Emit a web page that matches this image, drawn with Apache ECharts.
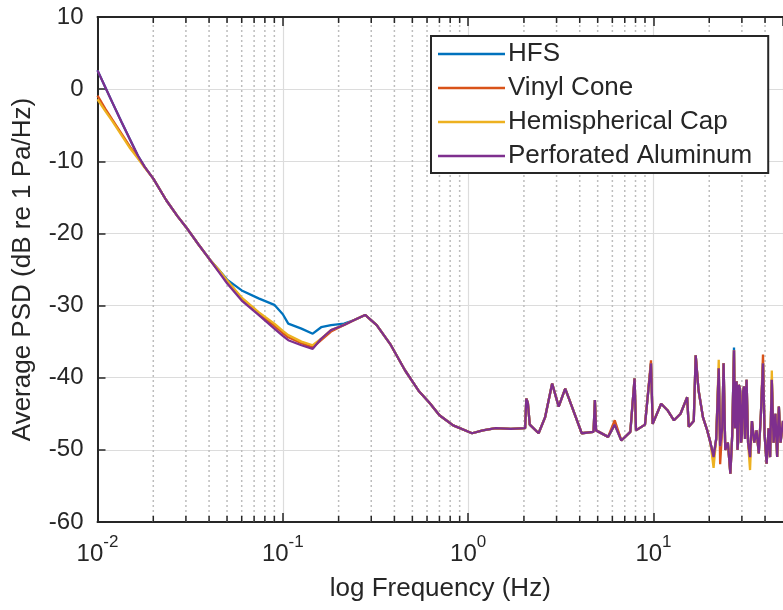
<!DOCTYPE html>
<html><head><meta charset="utf-8">
<script src="https://cdn.jsdelivr.net/npm/echarts@6/dist/echarts.min.js"></script>
<style>html,body{margin:0;padding:0;background:#fff}#c{width:783px;height:610px}</style>
</head><body><div id="c"></div>
<script>
// Frequencies (Hz)
const freq = [
0.0100,0.0110,0.0120,0.0135,0.0150,0.0165,0.0180,0.0200,0.0235,0.0270,
0.0300,0.0350,0.0400,0.0450,0.0500,0.0600,0.0740,0.0900,0.1000,0.1070,
0.1260,0.1450,0.1610,0.1820,0.2140,0.2430,0.2780,0.3210,0.3790,0.4570,
0.5400,0.6200,0.7000,0.8300,1.0500,1.2000,1.4100,1.7000,2.0300,2.0600,
2.1000,2.1500,2.4000,2.6000,2.8400,3.0800,3.3400,3.6300,4.1000,4.7500,
4.8300,4.9000,5.6900,6.1800,6.7100,7.5000,7.9100,8.0500,9.0000,9.7000,
9.9000,11.000,11.900,12.900,14.000,15.200,15.500,16.500,16.900,17.500,
18.5,19.5,20.3,21.1,21.8,22.5,22.9,23.5,23.9,24.4,
25.2,26.0,26.6,27.2,27.5,27.8,28.1,28.4,28.6,28.9,
29.3,29.7,30.0,30.4,30.8,31.2,31.8,32.4,33.2,34.0,
35.0,36.0,37.0,38.0,39.0,39.8,40.8,41.8,42.6,43.5,
44.5,45.5,46.5,47.5,48.5,50.0
];
const hfs = [
2.6,0.3,-1.8,-4.6,-7.0,-9.2,-10.8,-12.4,-15.4,-17.6,
-19.1,-21.5,-23.5,-25.0,-26.4,-27.9,-29.0,-29.9,-31.2,-32.5,
-33.2,-33.9,-33.0,-32.7,-32.5,-32.0,-31.3,-32.7,-35.3,-39.0,
-41.8,-43.5,-45.2,-46.6,-47.7,-47.3,-47.0,-47.1,-47.0,-42.9,
-43.5,-46.5,-47.7,-45.5,-40.8,-44.0,-41.5,-44.0,-47.7,-47.5,
-43.1,-47.3,-48.2,-46.5,-48.7,-47.5,-40.1,-47.3,-46.5,-38.0,
-46.4,-43.6,-44.5,-45.9,-45.0,-42.7,-46.8,-46.0,-36.9,-41.7,
-45.5,-47.3,-49.0,-51.0,-48.5,-38.7,-49.5,-47.0,-38.0,-50.0,
-49.0,-53.3,-48.0,-35.8,-47.0,-41.5,-40.5,-50.0,-49.0,-41.0,
-41.5,-49.0,-48.0,-42.0,-41.2,-48.5,-40.3,-49.0,-51.0,-46.0,
-49.0,-47.3,-50.5,-45.0,-38.0,-48.0,-51.9,-47.0,-51.0,-40.3,
-49.0,-45.0,-51.0,-44.0,-49.0,-46.0
];
const vinyl = [
-0.9,-2.7,-4.2,-6.2,-8.0,-9.4,-10.8,-12.4,-15.4,-17.6,
-19.1,-21.5,-23.5,-25.2,-26.6,-29.0,-31.0,-32.8,-33.8,-34.4,
-35.2,-35.8,-34.8,-33.6,-32.7,-32.0,-31.3,-32.7,-35.3,-39.0,
-41.8,-43.5,-45.2,-46.6,-47.7,-47.3,-47.0,-47.1,-47.0,-42.9,
-43.5,-46.5,-47.7,-45.5,-40.8,-44.0,-41.5,-44.0,-47.7,-47.5,
-43.1,-47.3,-48.2,-45.9,-48.7,-47.5,-40.1,-47.3,-46.5,-37.6,
-46.4,-43.6,-44.5,-45.9,-45.0,-42.7,-46.8,-46.0,-36.9,-41.7,
-45.5,-47.3,-49.0,-51.0,-48.5,-38.7,-52.0,-47.0,-38.0,-50.0,
-49.0,-53.3,-48.0,-36.2,-47.0,-41.5,-40.5,-50.0,-49.0,-41.0,
-41.5,-49.0,-48.0,-42.0,-41.2,-48.5,-40.3,-49.0,-51.0,-46.0,
-49.0,-47.3,-50.5,-45.0,-36.8,-48.0,-51.9,-47.0,-51.0,-40.3,
-49.0,-45.0,-51.0,-44.0,-49.0,-46.0
];
const hemi = [
-1.4,-3.0,-4.4,-6.4,-8.2,-9.6,-10.9,-12.4,-15.4,-17.6,
-19.1,-21.5,-23.5,-25.0,-26.5,-28.9,-30.9,-32.5,-33.5,-34.1,
-35.0,-35.5,-34.6,-33.4,-32.7,-32.0,-31.3,-32.7,-35.3,-39.0,
-41.8,-43.5,-45.2,-46.6,-47.7,-47.3,-47.0,-47.1,-47.0,-42.9,
-43.5,-46.5,-47.7,-45.5,-40.8,-44.0,-41.5,-44.0,-47.7,-47.5,
-43.1,-47.3,-48.2,-46.5,-48.7,-47.5,-40.1,-47.3,-46.5,-38.0,
-46.4,-43.6,-44.5,-45.9,-45.0,-42.7,-46.8,-46.0,-36.9,-41.7,
-45.5,-47.3,-49.0,-52.5,-48.5,-37.5,-49.5,-47.0,-38.0,-50.0,
-49.0,-53.3,-48.0,-36.2,-47.0,-41.5,-40.5,-50.0,-49.0,-41.0,
-41.5,-49.0,-48.0,-42.0,-41.2,-48.5,-40.3,-49.0,-52.8,-46.0,
-49.0,-47.3,-50.5,-45.0,-38.0,-48.0,-51.9,-47.0,-51.0,-39.0,
-49.0,-45.0,-51.0,-44.0,-49.0,-46.0
];
const perf = [
2.6,0.3,-1.8,-4.6,-7.0,-9.2,-10.8,-12.4,-15.4,-17.6,
-19.1,-21.5,-23.5,-25.3,-26.9,-29.3,-31.3,-33.2,-34.2,-34.8,
-35.5,-36.0,-34.6,-33.4,-32.7,-32.0,-31.3,-32.7,-35.3,-39.0,
-41.8,-43.5,-45.2,-46.6,-47.7,-47.3,-47.0,-47.1,-47.0,-42.9,
-43.5,-46.5,-47.7,-45.5,-40.8,-44.0,-41.5,-44.0,-47.7,-47.5,
-43.1,-47.3,-48.2,-46.5,-48.7,-47.5,-40.1,-47.3,-46.5,-38.0,
-46.4,-43.6,-44.5,-45.9,-45.0,-42.7,-46.8,-46.0,-36.9,-41.7,
-45.5,-47.3,-49.0,-51.0,-48.5,-38.7,-49.5,-47.0,-38.0,-50.0,
-49.0,-53.3,-48.0,-36.2,-47.0,-41.5,-40.5,-50.0,-49.0,-41.0,
-41.5,-49.0,-48.0,-42.0,-41.2,-48.5,-40.3,-49.0,-51.0,-46.0,
-49.0,-47.3,-50.5,-45.0,-38.0,-48.0,-51.9,-47.0,-51.0,-40.3,
-49.0,-45.0,-51.0,-44.0,-49.0,-46.0
];
const seriesNames = ['HFS','Vinyl Cone','Hemispherical Cap','Perforated Aluminum'];
const seriesValues = [hfs, vinyl, hemi, perf];
const colors = ['#0072BD','#D95319','#EDB120','#7E2F8E'];
const minorFreqs = [0.02,0.03,0.04,0.05,0.06,0.07,0.08,0.09,
  0.2,0.3,0.4,0.5,0.6,0.7,0.8,0.9,
  2,3,4,5,6,7,8,9,
  20,30,40];
const xMin = 0.01, xMax = 50, yMin = -60, yMax = 10, yStep = 10;
const xTitle = 'log Frequency (Hz)';
const yTitle = 'Average PSD (dB re 1 Pa/Hz)';

const FONT = 'Liberation Sans, Arial, sans-serif';
const TXT = '#262626';

const chart = echarts.init(document.getElementById('c'), null, {renderer:'canvas'});

const lineSeries = seriesNames.map((n, k) => ({
  name: n, type: 'line', xAxisIndex: 0, yAxisIndex: 0,
  data: freq.map((f, i) => [f, seriesValues[k][i]]),
  symbol: 'none', showSymbol: false,
  lineStyle: {color: colors[k], width: 2.3},
  itemStyle: {color: colors[k]},
  z: 3 + k, animation: false
}));

const minorSeries = {
  type: 'custom', xAxisIndex: 0, yAxisIndex: 0, silent: true, z: 1,
  data: minorFreqs.map(f => [f, yMin]),
  renderItem: function (params, api) {
    const f = api.value(0);
    const pb = api.coord([f, yMin]);
    const pt = api.coord([f, yMax]);
    return {type: 'group', children: [
      {type: 'line', shape: {x1: pb[0], y1: pb[1], x2: pt[0], y2: pt[1]},
        style: {stroke: '#bdbdbd', lineWidth: 1.5, lineDash: [2, 3]}},
      {type: 'line', shape: {x1: pb[0], y1: pb[1], x2: pb[0], y2: pb[1] - 6},
        style: {stroke: TXT, lineWidth: 1.5}},
      {type: 'line', shape: {x1: pt[0], y1: pt[1], x2: pt[0], y2: pt[1] + 6},
        style: {stroke: TXT, lineWidth: 1.5}}
    ]};
  },
  animation: false
};

const option = {
  backgroundColor: '#ffffff',
  animation: false,
  grid: {left: 97.5, right: -7, top: 17, bottom: 88, containLabel: false},
  legend: {
    data: seriesNames.map((n, k) => ({name: n, icon: 'rect', itemStyle: {color: colors[k]}})),
    orient: 'vertical', left: 431, top: 36,
    padding: [5, 16, 4, 7], itemWidth: 67, itemHeight: 2.5, itemGap: 8,
    backgroundColor: '#ffffff', borderColor: TXT, borderWidth: 2, borderRadius: 0,
    textStyle: {fontSize: 26, lineHeight: 26, color: TXT, fontFamily: FONT, padding: [0,0,0,-2]},
    selectedMode: false
  },
  xAxis: [{
    type: 'log', logBase: 10, min: xMin, max: xMax, position: 'bottom',
    name: xTitle, nameLocation: 'middle', nameGap: 54,
    nameTextStyle: {fontSize: 26, color: TXT, fontFamily: FONT},
    axisLine: {show: true, onZero: false, lineStyle: {color: TXT, width: 2}},
    axisTick: {show: true, inside: true, length: 9, lineStyle: {color: TXT, width: 1.5}},
    splitLine: {show: true, lineStyle: {color: '#dcdcdc', width: 1.2}},
    minorTick: {show: false}, minorSplitLine: {show: false},
    axisLabel: {
      margin: 12, showMinLabel: true, showMaxLabel: false,
      formatter: function (v) {
        const e = Math.log10(v);
        const r = Math.round(e);
        if (Math.abs(e - r) > 1e-6) return '';
        return '{b|10}{s|' + r + '}';
      },
      rich: {
        b: {fontSize: 24, color: TXT, fontFamily: FONT, lineHeight: 32, verticalAlign: 'bottom'},
        s: {fontSize: 17, color: TXT, fontFamily: FONT, lineHeight: 32, verticalAlign: 'top'}
      }
    }
  }, {
    type: 'log', logBase: 10, min: xMin, max: xMax, position: 'top',
    axisLine: {show: true, onZero: false, lineStyle: {color: TXT, width: 2}},
    axisTick: {show: true, inside: true, length: 9, lineStyle: {color: TXT, width: 1.5}},
    axisLabel: {show: false}, splitLine: {show: false}
  }],
  yAxis: [{
    type: 'value', min: yMin, max: yMax, interval: yStep, position: 'left',
    name: yTitle, nameLocation: 'middle', nameGap: 62, nameRotate: 90,
    nameTextStyle: {fontSize: 26, color: TXT, fontFamily: FONT},
    axisLine: {show: true, onZero: false, lineStyle: {color: TXT, width: 2}},
    axisTick: {show: true, inside: true, length: 8, lineStyle: {color: TXT, width: 1.5}},
    splitLine: {show: true, lineStyle: {color: '#dcdcdc', width: 1.2}},
    axisLabel: {fontSize: 24, color: TXT, fontFamily: FONT, margin: 14}
  }],
  series: [minorSeries].concat(lineSeries)
};
chart.setOption(option);
</script>
</body></html>
